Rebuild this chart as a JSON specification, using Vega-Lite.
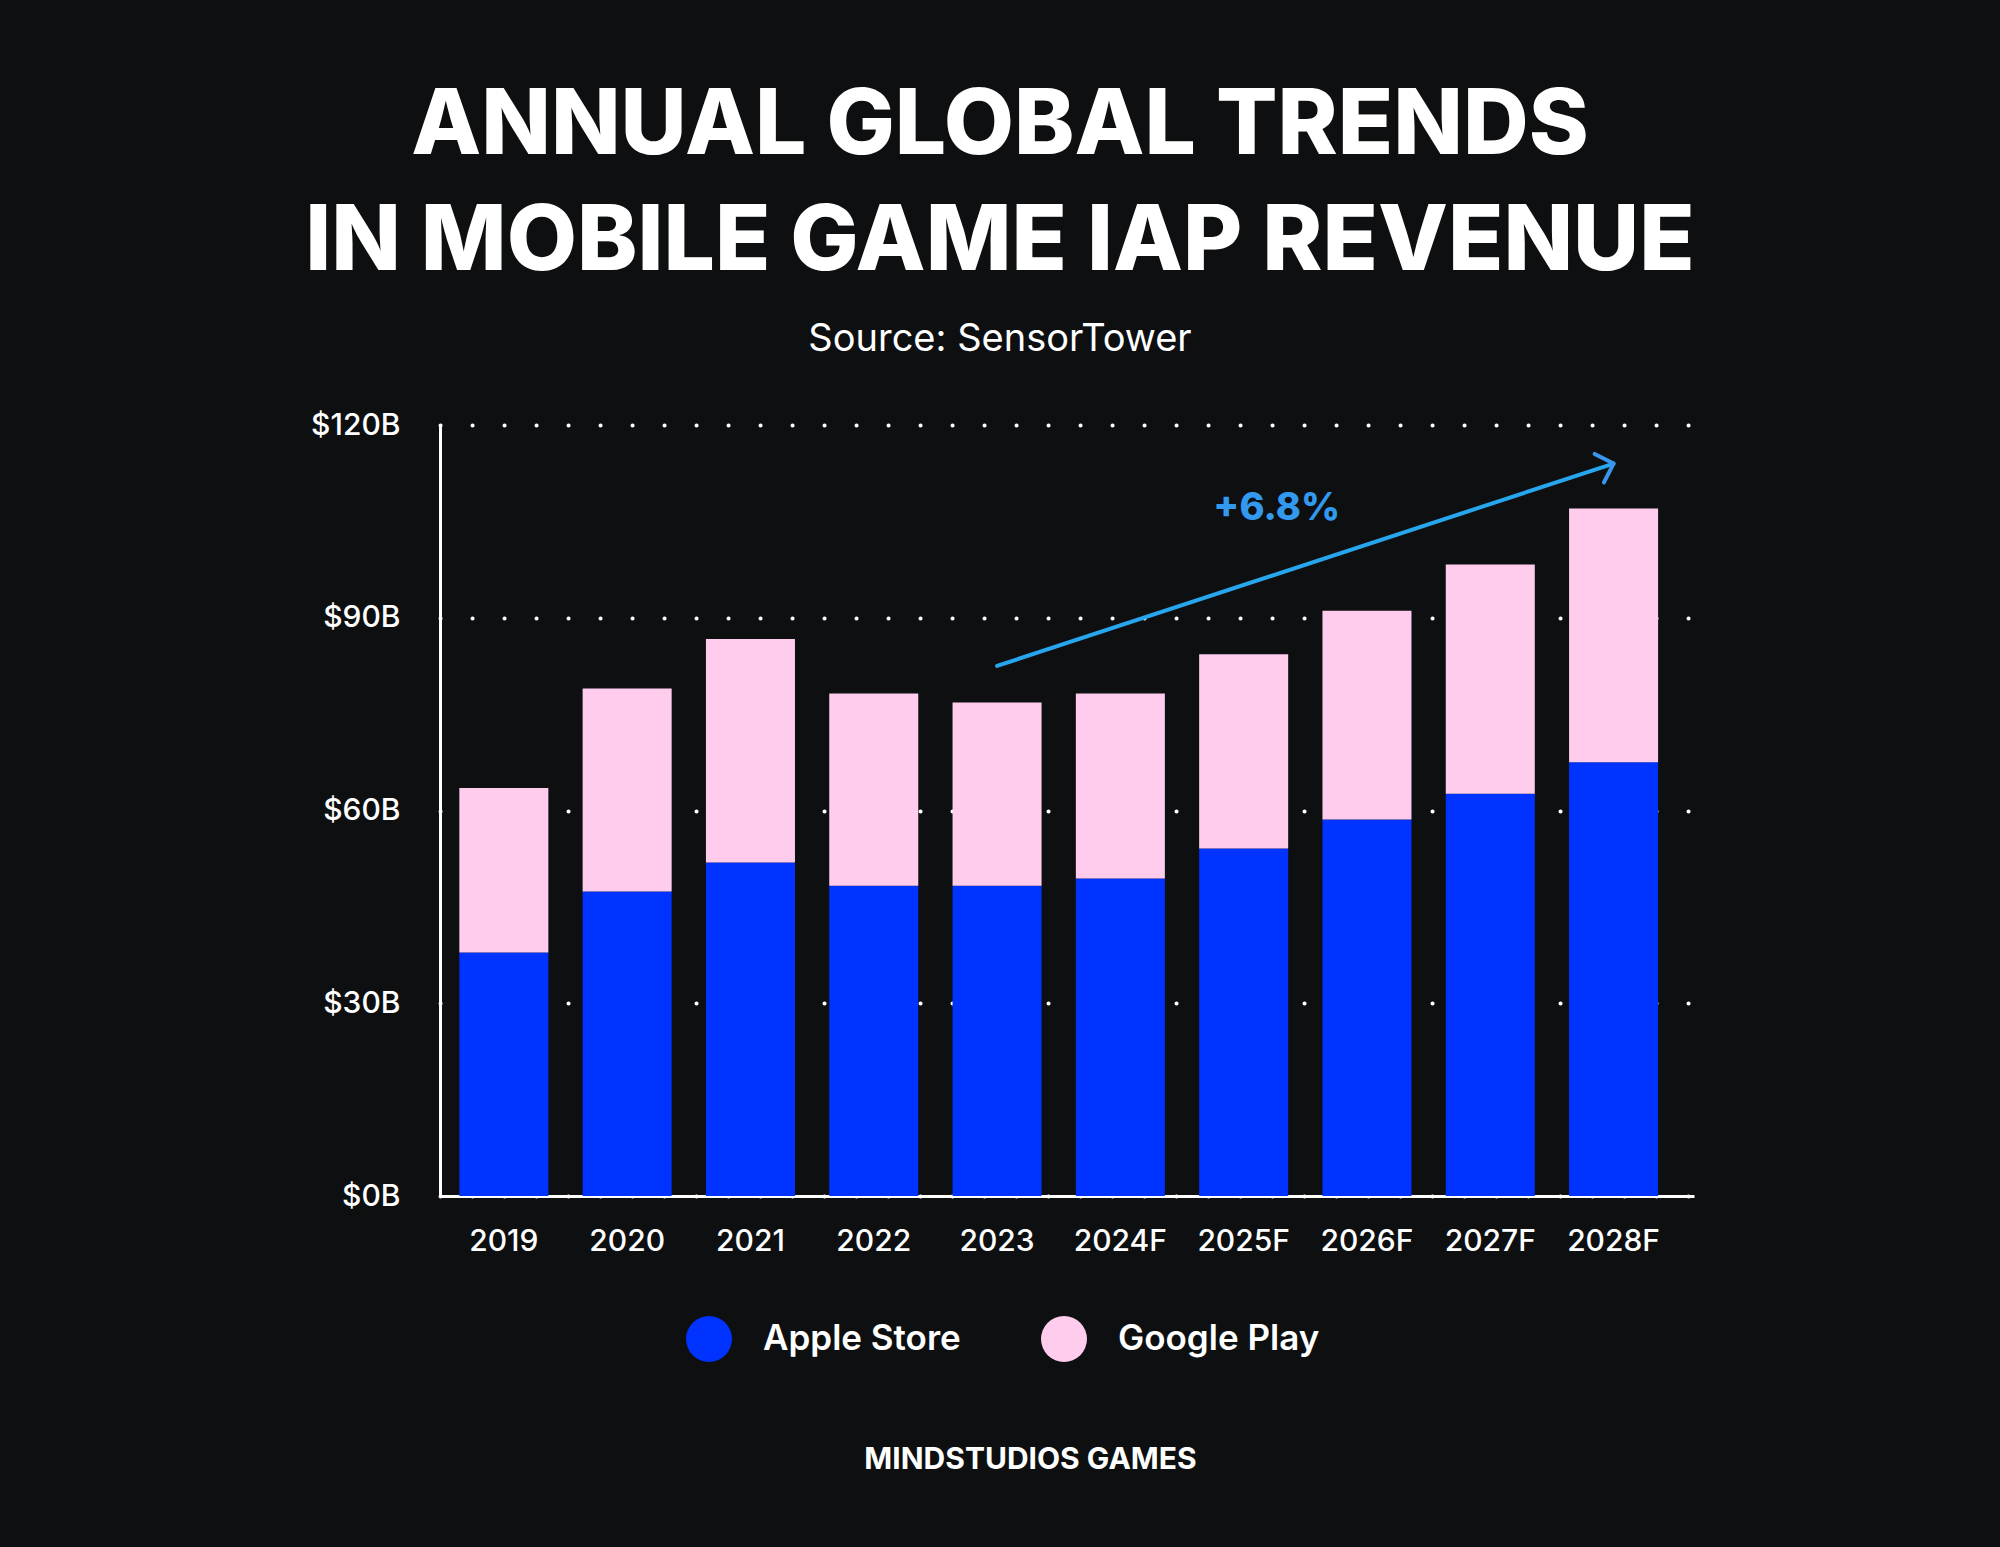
{
  "$schema": "https://vega.github.io/schema/vega-lite/v6.json",
  "autosize": {"type": "none"},
  "width": 1254,
  "height": 771,
  "padding": {"left": 440, "top": 425, "right": 306, "bottom": 351},
  "background": "#0d0f10",
  "title": {
    "text": ["ANNUAL GLOBAL TRENDS", "IN MOBILE GAME IAP REVENUE"],
    "subtitle": "Source: SensorTower",
    "anchor": "middle",
    "frame": "group",
    "dx": -67,
    "offset": 50,
    "font": "Inter",
    "fontSize": 91,
    "fontWeight": 800,
    "lineHeight": 116,
    "color": "#ffffff",
    "subtitleFont": "Inter",
    "subtitleFontSize": 38,
    "subtitleFontWeight": 400,
    "subtitleColor": "#ffffff",
    "subtitlePadding": 32
  },
  "datasets": {
    "revenue": [
      {"year": "2019", "store": "Apple Store", "value": 37.9},
      {"year": "2019", "store": "Google Play", "value": 25.6},
      {"year": "2020", "store": "Apple Store", "value": 47.4},
      {"year": "2020", "store": "Google Play", "value": 31.6},
      {"year": "2021", "store": "Apple Store", "value": 51.9},
      {"year": "2021", "store": "Google Play", "value": 34.8},
      {"year": "2022", "store": "Apple Store", "value": 48.3},
      {"year": "2022", "store": "Google Play", "value": 29.9},
      {"year": "2023", "store": "Apple Store", "value": 48.3},
      {"year": "2023", "store": "Google Play", "value": 28.5},
      {"year": "2024F", "store": "Apple Store", "value": 49.4},
      {"year": "2024F", "store": "Google Play", "value": 28.8},
      {"year": "2025F", "store": "Apple Store", "value": 54.1},
      {"year": "2025F", "store": "Google Play", "value": 30.2},
      {"year": "2026F", "store": "Apple Store", "value": 58.6},
      {"year": "2026F", "store": "Google Play", "value": 32.5},
      {"year": "2027F", "store": "Apple Store", "value": 62.6},
      {"year": "2027F", "store": "Google Play", "value": 35.7},
      {"year": "2028F", "store": "Apple Store", "value": 67.5},
      {"year": "2028F", "store": "Google Play", "value": 39.5}
    ],
    "trend": [
      {"year": "2023", "year2": "2028F", "value": 82.5, "value2": 114.0}
    ],
    "tip": [
      {"year": "2028F", "value": 114.0}
    ],
    "note": [
      {"year": "2025F", "value": 107.0, "label": "+6.8%"}
    ]
  },
  "layer": [
    {
      "data": {"name": "revenue"},
      "mark": {"type": "bar"},
      "encoding": {
        "x": {
          "field": "year",
          "type": "ordinal",
          "sort": null,
          "title": "MINDSTUDIOS GAMES",
          "scale": {
            "domain": ["2019", "2020", "2021", "2022", "2023", "2024F", "2025F", "2026F", "2027F", "2028F"],
            "paddingInner": 0.278,
            "paddingOuter": 0.224,
            "align": 0.35
          },
          "axis": {
            "titleX": 590,
            "titleY": 272,
            "titleAlign": "center",
            "titleBaseline": "alphabetic",
            "titleFont": "Inter",
            "titleFontSize": 30,
            "titleFontWeight": 700,
            "titleColor": "#ffffff",
            "labelAngle": 0,
            "labelPadding": 30,
            "ticks": false,
            "grid": false
          }
        },
        "y": {
          "field": "value",
          "type": "quantitative",
          "stack": "zero",
          "title": null,
          "scale": {"domain": [0, 120], "nice": false},
          "axis": {
            "values": [0, 30, 60, 90, 120],
            "labelExpr": "'$' + datum.value + 'B'",
            "labelPadding": 40,
            "ticks": false,
            "grid": true,
            "gridColor": "#ffffff",
            "gridWidth": 4,
            "gridCap": "round",
            "gridDash": [0.1, 31.9]
          }
        },
        "color": {
          "field": "store",
          "type": "nominal",
          "scale": {"domain": ["Apple Store", "Google Play"], "range": ["#0033ff", "#ffccee"]},
          "legend": {
            "orient": "none",
            "legendX": 246,
            "legendY": 891,
            "direction": "horizontal",
            "title": null,
            "symbolType": "circle",
            "symbolSize": 2116,
            "symbolStrokeWidth": 0,
            "symbolOpacity": 1,
            "labelFont": "Inter",
            "labelFontSize": 35,
            "labelFontWeight": 600,
            "labelColor": "#ffffff",
            "labelLimit": 500,
            "labelOffset": 31,
            "columnPadding": 80
          }
        },
        "order": {"field": "store", "sort": "ascending"}
      }
    },
    {
      "data": {"name": "trend"},
      "mark": {"type": "rule", "color": "#27a6ee", "strokeWidth": 4, "strokeCap": "round"},
      "encoding": {
        "x": {"field": "year", "type": "ordinal", "title": "MINDSTUDIOS GAMES"},
        "x2": {"field": "year2"},
        "y": {"field": "value", "type": "quantitative", "title": null},
        "y2": {"field": "value2"}
      }
    },
    {
      "data": {"name": "tip"},
      "mark": {
        "type": "point",
        "shape": "M-1,-1L0,0L-1,1",
        "filled": false,
        "size": 900,
        "angle": -18,
        "stroke": "#3a96ec",
        "strokeWidth": 4,
        "strokeCap": "round",
        "strokeJoin": "round",
        "opacity": 1
      },
      "encoding": {
        "x": {"field": "year", "type": "ordinal", "title": "MINDSTUDIOS GAMES"},
        "y": {"field": "value", "type": "quantitative", "title": null}
      }
    },
    {
      "data": {"name": "note"},
      "mark": {
        "type": "text",
        "font": "Inter",
        "fontSize": 38,
        "fontWeight": 800,
        "color": "#3399ee",
        "dx": 33,
        "baseline": "middle",
        "align": "center"
      },
      "encoding": {
        "x": {"field": "year", "type": "ordinal", "title": "MINDSTUDIOS GAMES"},
        "y": {"field": "value", "type": "quantitative", "title": null},
        "text": {"field": "label"}
      }
    }
  ],
  "config": {
    "view": {"stroke": null},
    "axis": {
      "domainColor": "#ffffff",
      "domainWidth": 3,
      "labelColor": "#ffffff",
      "labelFont": "Inter",
      "labelFontSize": 30,
      "labelFontWeight": 500
    }
  }
}
